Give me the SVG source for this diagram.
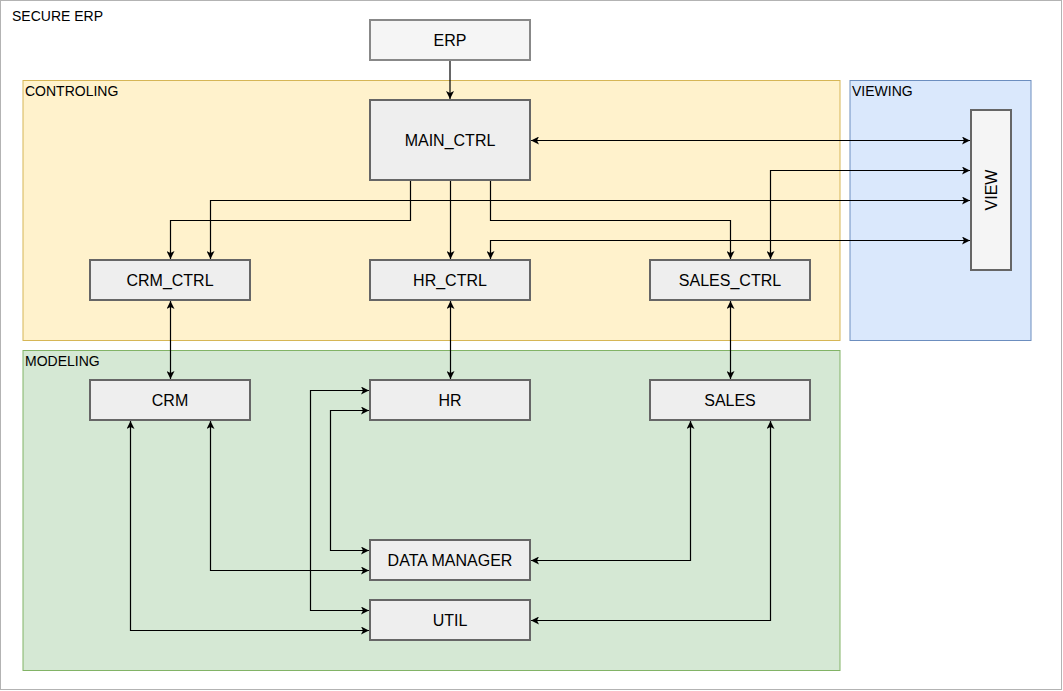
<svg xmlns="http://www.w3.org/2000/svg" width="1063" height="691" viewBox="0 0 1063 691">
<defs>
<marker id="arr" viewBox="0 0 10 10" refX="10" refY="5" markerWidth="8" markerHeight="8" markerUnits="userSpaceOnUse" orient="auto-start-reverse">
<path d="M0,0 L10,5 L0,10 L2.5,5 Z" fill="#000"/>
</marker>
</defs>
<style>
.lbl{font-family:"Liberation Sans",Arial,sans-serif;font-size:14px;fill:#000}
.nt{font-family:"Liberation Sans",Arial,sans-serif;font-size:16px;fill:#000;text-anchor:middle;dominant-baseline:central}
.node rect{fill:#eeeeee;stroke:#666666;stroke-width:2}
.c path{fill:none;stroke:#000;stroke-width:1.2}
.one{marker-end:url(#arr)}
.two{marker-start:url(#arr);marker-end:url(#arr)}
</style>
<g id="secure_erp">
<rect x="0.5" y="0.5" width="1061" height="689" fill="#ffffff" stroke="#b3b3b3"/>
<text class="lbl" x="12" y="21">SECURE ERP</text>
</g>
<g id="controling">
<rect x="23" y="80.5" width="817" height="260" fill="#fff2cc" stroke="#d6b656"/>
<text class="lbl" x="25" y="96">CONTROLING</text>
</g>
<g id="viewing">
<rect x="850" y="80.5" width="181" height="260" fill="#dae8fc" stroke="#6c8ebf"/>
<text class="lbl" x="852" y="96">VIEWING</text>
</g>
<g id="modeling">
<rect x="23" y="350.5" width="817" height="320" fill="#d5e8d4" stroke="#82b366"/>
<text class="lbl" x="25" y="366">MODELING</text>
</g>
<g id="erp" class="node"><rect x="370" y="20" width="160" height="40" style="fill:#f5f5f5;stroke:#888888"/><text class="nt" x="450" y="40.5">ERP</text></g>
<g id="main_ctrl" class="node"><rect x="370" y="100" width="160" height="80"/><text class="nt" x="450" y="140.5">MAIN_CTRL</text></g>
<g id="crm_ctrl" class="node"><rect x="90" y="260" width="160" height="40"/><text class="nt" x="170" y="280.5">CRM_CTRL</text></g>
<g id="hr_ctrl" class="node"><rect x="370" y="260" width="160" height="40"/><text class="nt" x="450" y="280.5">HR_CTRL</text></g>
<g id="sales_ctrl" class="node"><rect x="650" y="260" width="160" height="40"/><text class="nt" x="730" y="280.5">SALES_CTRL</text></g>
<g id="view" class="node"><rect x="971" y="110" width="40" height="160" style="fill:#f5f5f5"/><text class="nt" x="991" y="190" transform="rotate(-90 991 190)">VIEW</text></g>
<g id="crm" class="node"><rect x="90" y="380" width="160" height="40"/><text class="nt" x="170" y="400.5">CRM</text></g>
<g id="hr" class="node"><rect x="370" y="380" width="160" height="40"/><text class="nt" x="450" y="400.5">HR</text></g>
<g id="sales" class="node"><rect x="650" y="380" width="160" height="40"/><text class="nt" x="730" y="400.5">SALES</text></g>
<g id="data_manager" class="node"><rect x="370" y="540" width="160" height="40"/><text class="nt" x="450" y="560.5">DATA MANAGER</text></g>
<g id="util" class="node"><rect x="370" y="600" width="160" height="40"/><text class="nt" x="450" y="620.5">UTIL</text></g>
<g id="connectors" class="c">
<path class="one" d="M450,61 V99"/>
<path class="two" d="M531,140.5 H970"/>
<path class="one" d="M410.5,181 V220.5 H170.5 V259"/>
<path class="two" d="M210.5,259 V200.5 H970"/>
<path class="one" d="M450.5,181 V259"/>
<path class="one" d="M490.5,181 V220.5 H730.5 V259"/>
<path class="two" d="M490.5,259 V240.5 H970"/>
<path class="two" d="M770.5,259 V170.5 H970"/>
<path class="two" d="M170.5,301 V379"/>
<path class="two" d="M450.5,301 V379"/>
<path class="two" d="M730.5,301 V379"/>
<path class="two" d="M369,390.5 H310.5 V610.5 H369"/>
<path class="two" d="M369,410.5 H330.5 V550.5 H369"/>
<path class="two" d="M210.5,421 V570.5 H369"/>
<path class="two" d="M130.5,421 V630.5 H369"/>
<path class="two" d="M690.5,421 V560.5 H531"/>
<path class="two" d="M770.5,421 V620.5 H531"/>
</g>
</svg>
